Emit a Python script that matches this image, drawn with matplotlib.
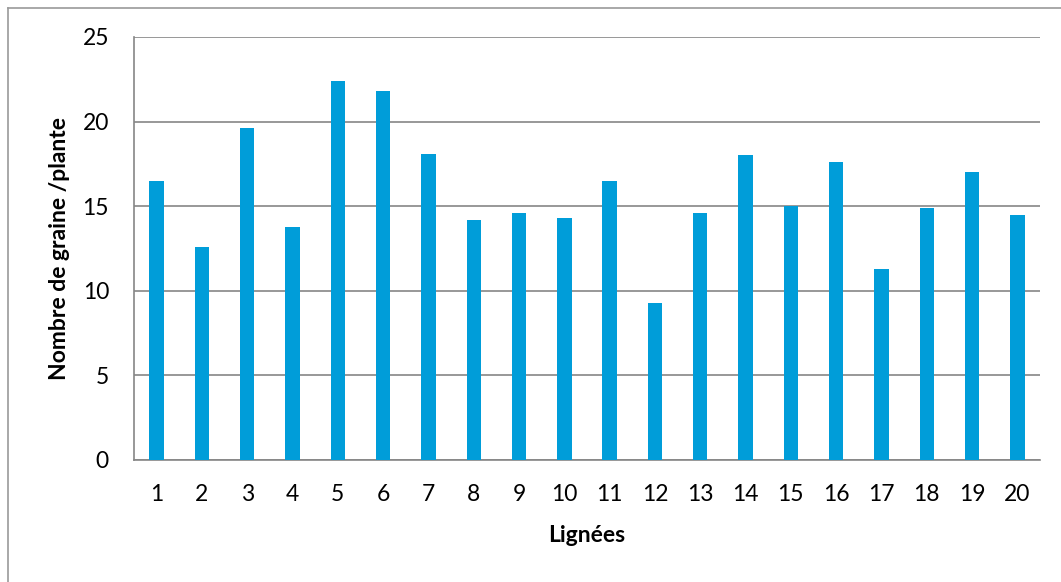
import numpy as np
import matplotlib
matplotlib.use('Agg')
import matplotlib.pyplot as plt
from matplotlib.lines import Line2D

lignees = [str(i) for i in range(1, 21)]
graines = [16.5, 12.6, 19.6, 13.8, 22.4, 21.8, 18.1, 14.2, 14.6, 14.3,
           16.5, 9.3, 14.6, 18.0, 15.0, 17.6, 11.3, 14.9, 17.0, 14.5]
y_ticks = [0, 5, 10, 15, 20, 25]

W, H = 1061, 582
plt.rcParams['font.family'] = ['Lato', 'DejaVu Sans']

fig = plt.figure(figsize=(W / 100, H / 100), dpi=100)
ax = fig.add_axes([134 / W, 1 - 460 / H, (1040 - 134) / W, (460 - 37) / H])

x = np.arange(len(lignees))
ax.bar(x, graines, width=0.32, color='#009DD9', zorder=3)

ax.set_xlim(-0.5, len(lignees) - 0.5)
ax.set_ylim(0, 25)
ax.set_yticks(y_ticks)
ax.set_xticks(x)
ax.set_xticklabels(lignees)
ax.tick_params(axis='both', length=0, labelsize=16.5, colors='black')
ax.tick_params(axis='x', pad=17)
ax.tick_params(axis='y', pad=18)

ax.grid(axis='y', color='#868686', linewidth=1.2, zorder=0)
for s in ['top', 'right']:
    ax.spines[s].set_visible(False)
for s in ['left', 'bottom']:
    ax.spines[s].set_color('#868686')
    ax.spines[s].set_linewidth(1.2)

fig.text(587 / W, 1 - 536 / H, 'Lignées', ha='center', va='center',
         fontsize=16.5, fontweight='bold')
fig.text(60 / W, 1 - 248 / H, 'Nombre de graine /plante', ha='center', va='center',
         rotation=90, fontsize=16.5, fontweight='bold')

# cadre extérieur (seulement haut et gauche visibles)
fig.add_artist(Line2D([7.5 / W, 7.5 / W], [0, 1 - 8 / H], color='#9a9a9a', linewidth=1.2))
fig.add_artist(Line2D([7.5 / W, 1], [1 - 8 / H, 1 - 8 / H], color='#9a9a9a', linewidth=1.2))

fig.savefig('out.png', dpi=100)
